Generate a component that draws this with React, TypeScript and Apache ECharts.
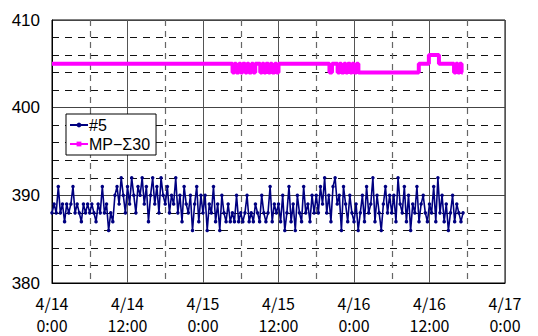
import React, { useEffect, useRef } from "react";
import * as echarts from "echarts";

// #5 readings, one every 20 minutes from 4/14 0:00
const sampleStepHours = 1 / 3;
const series5: number[] = [
  388, 389, 388, 391, 388, 389, 387, 389, 388, 389, 391, 388, 389, 388, 387, 389, 388, 389,
  388, 389, 388, 387, 389, 388, 391, 388, 389, 386, 388, 387, 390, 391, 389, 392, 390, 388,
  391, 389, 392, 390, 388, 391, 390, 392, 389, 391, 387, 390, 392, 389, 391, 388, 392, 390,
  389, 391, 388, 390, 389, 392, 388, 390, 387, 391, 389, 388, 390, 386, 389, 391, 387, 390,
  388, 390, 386, 389, 388, 391, 387, 389, 386, 390, 388, 387, 389, 387, 388, 387, 390, 387,
  388, 387, 388, 390, 387, 388, 387, 389, 388, 387, 390, 388, 387, 388, 391, 387, 389, 388,
  389, 387, 390, 386, 388, 391, 387, 389, 386, 390, 388, 387, 391, 388, 389, 387, 390, 388,
  390, 388, 391, 389, 392, 388, 390, 387, 391, 392, 389, 390, 386, 391, 389, 387, 390, 388,
  387, 389, 386, 388, 390, 387, 391, 388, 389, 392, 387, 390, 388, 386, 389, 391, 388, 390,
  388, 390, 387, 392, 389, 388, 391, 387, 390, 386, 389, 388, 391, 387, 389, 390, 388, 387,
  389, 388, 391, 387, 392, 388, 390, 387, 389, 386, 388, 390, 387, 389, 388, 387, 388,
];

// MP-Σ30: change points (hours since 4/14 0:00) and the value held from then on
const mpHours: number[] = [
  0, 28.7, 29.0, 29.3, 29.7, 30.0, 30.3, 30.7, 31.0, 31.3, 31.7, 32.0, 32.3, 33.1, 33.4, 33.7,
  34.0, 34.4, 34.7, 35.0, 35.4, 35.7, 36.0, 44.1, 44.5, 45.4, 45.7, 46.0, 46.4, 46.7, 47.0,
  47.4, 47.7, 48.0, 48.4, 48.7, 58.3, 59.9, 61.5, 63.9, 64.2, 64.5, 64.8, 65.1, 65.3,
];
const mpValues: number[] = [
  405, 404, 405, 404, 405, 404, 405, 404, 405, 404, 405, 404, 405, 404, 405, 404,
  405, 404, 405, 404, 405, 404, 405, 404, 405, 404, 405, 404, 405, 404, 405,
  404, 405, 404, 405, 404, 405, 406, 405, 404, 405, 404, 405, 404, 404,
];

const xTickLabels: string[] = [
  "4/14\n0:00", "4/14\n12:00", "4/15\n0:00", "4/15\n12:00", "4/16\n0:00", "4/16\n12:00", "4/17\n0:00",
];
const xTickStepHours = 12;
const yMin = 380;
const yMax = 410;
const yStep = 10;

export default function App() {
  const ref = useRef<HTMLDivElement>(null);
  useEffect(() => {
    if (!ref.current) return;
    const chart = echarts.init(ref.current, null, { renderer: "svg" });
    const d5 = series5.map((v, i) => [i * sampleStepHours, v]);
    const dmp = mpHours.map((h, i) => [h, mpValues[i]]);
    chart.setOption({
      animation: false,
      backgroundColor: "#fff",
      grid: {
        left: 52,
        right: 33,
        top: 20,
        bottom: 51,
        show: true,
        borderColor: "#000",
        borderWidth: 1,
        backgroundColor: "transparent",
      },
      xAxis: {
        type: "value",
        min: 0,
        max: xTickStepHours * (xTickLabels.length - 1),
        interval: xTickStepHours,
        axisLine: { show: true, lineStyle: { color: "#000" } },
        axisTick: { show: false },
        axisLabel: {
          margin: 9,
          color: "#000",
          fontSize: 16,
          lineHeight: 22,
          fontFamily: "Noto Sans CJK JP",
          formatter: (v: number) => xTickLabels[Math.round(v / xTickStepHours)] ?? "",
        },
        splitLine: { show: true, lineStyle: { color: "#555", width: 1 } },
        minorTick: { show: false, splitNumber: 2 },
        minorSplitLine: { show: true, lineStyle: { color: "#666", type: [6, 5], width: 1.2 } },
      },
      yAxis: {
        type: "value",
        min: yMin,
        max: yMax,
        interval: yStep,
        axisLine: { show: true, lineStyle: { color: "#000" } },
        axisTick: { show: false },
        axisLabel: {
          margin: 12,
          color: "#000",
          fontSize: 17,
          fontFamily: "Liberation Sans",
        },
        splitLine: { show: true, lineStyle: { color: "#444", width: 1 } },
        minorTick: { show: false, splitNumber: 5 },
        minorSplitLine: { show: true, lineStyle: { color: "#111", type: [7, 6], width: 1.1 } },
      },
      legend: {
        orient: "vertical",
        left: 66,
        top: 114,
        padding: [3, 6, 3, 3],
        itemGap: 3,
        itemWidth: 18,
        itemHeight: 6,
        backgroundColor: "#fff",
        borderColor: "#000",
        borderWidth: 1,
        borderRadius: 0,
        textStyle: { color: "#000", fontSize: 16, fontFamily: "Liberation Sans", padding: [0, 0, 0, -4] },
        data: ["#5", "MP−Σ30"],
      },
      series: [
        {
          name: "MP−Σ30",
          type: "line",
          step: "end",
          data: dmp,
          symbol: "rect",
          symbolSize: 3,
          showSymbol: false,
          lineStyle: { color: "#ff00ff", width: 4 },
          itemStyle: { color: "#ff00ff" },
          z: 3,
        },
        {
          name: "#5",
          type: "line",
          data: d5,
          symbol: "circle",
          symbolSize: 3.5,
          showSymbol: true,
          lineStyle: { color: "#000080", width: 1.6 },
          itemStyle: { color: "#000080" },
          z: 4,
        },
      ],
    });
    return () => chart.dispose();
  }, []);
  return <div ref={ref} style={{ width: 538, height: 336, position: "absolute", left: 0, top: 0 }} />;
}
